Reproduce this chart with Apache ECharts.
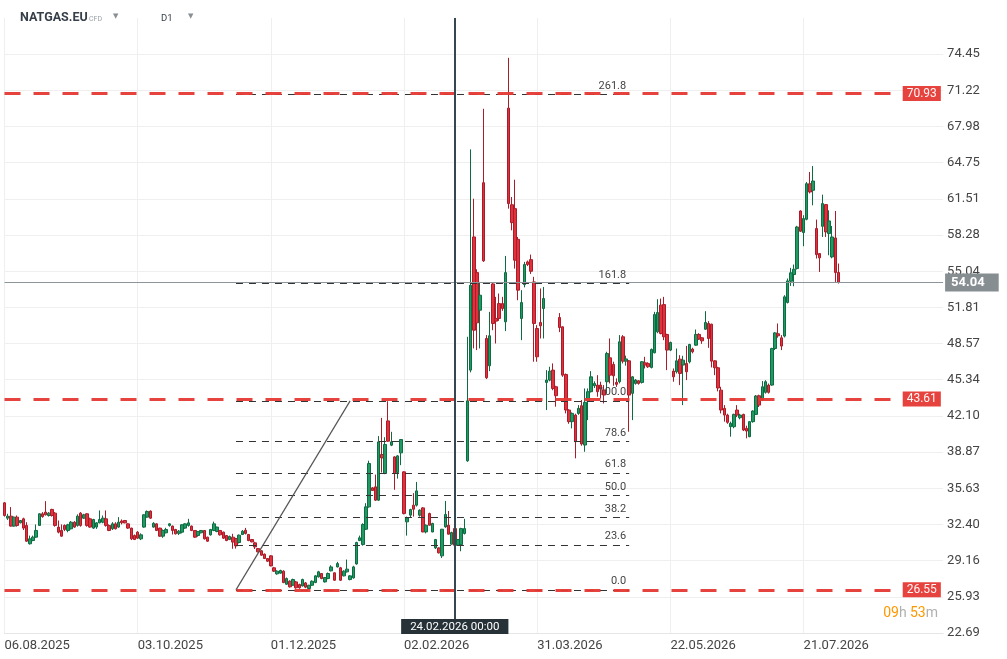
<!DOCTYPE html>
<html><head><meta charset="utf-8">
<script src="https://cdn.jsdelivr.net/npm/echarts@6.0.0/dist/echarts.min.js"></script>
<style>html,body{margin:0;padding:0;background:#fff}#c{width:1007px;height:659px}</style>
</head><body><div id="c"></div>
<script>
// [open, close, low, high]
const segAugNov = [
[34.33,33.20,33.10,34.40],[32.96,33.14,32.80,33.35],[33.14,32.25,32.20,33.95],[32.25,33.05,32.20,33.10],[33.05,32.31,32.20,33.20],
[32.54,32.75,32.50,32.80],[32.90,32.07,31.90,33.00],[32.31,30.90,30.85,32.60],[30.67,31.11,30.60,31.40],[30.96,31.26,30.90,31.40],
[31.26,31.86,31.20,32.40],[32.31,33.35,32.30,33.40],[33.35,33.10,33.00,33.50],[33.50,33.26,33.20,34.48],[33.20,33.41,33.10,33.50],
[33.74,33.20,33.10,33.80],[33.41,32.31,32.20,33.50],[32.16,31.71,31.60,32.75],[31.86,31.35,31.30,32.40],[32.31,31.95,31.80,32.40],
[31.86,32.37,31.70,32.45],[32.01,32.60,31.95,32.70],[32.60,32.16,32.10,32.70],[32.31,33.14,32.20,33.30],[33.41,32.31,32.20,33.50],
[32.96,33.26,32.90,33.35],[33.35,32.31,32.20,33.40],[32.90,32.16,32.10,33.00],[32.07,32.84,32.00,32.90],[32.16,32.54,32.00,32.60],
[32.54,32.84,32.50,33.65],[32.60,32.96,32.50,33.20],[32.90,32.31,32.20,33.65],[32.31,31.86,31.80,32.40],[32.01,32.45,31.90,32.60],
[32.45,32.01,31.95,32.60],[32.16,32.60,32.10,33.05],[32.70,32.55,32.40,32.85],[32.75,32.54,32.50,32.80],[32.45,32.07,32.00,32.50],
[32.07,31.11,31.00,32.10],[31.41,31.05,31.00,31.50],[31.71,31.17,31.10,31.80],[31.11,31.47,31.00,31.60],[32.16,33.26,32.10,33.30],
[33.05,33.56,33.00,33.65],[33.59,32.96,32.90,33.65],[32.16,32.50,32.10,32.60],[32.45,31.86,31.80,32.50],[32.07,31.35,31.30,32.10],
[31.35,31.86,31.20,31.95],[31.65,31.95,31.60,32.10],[32.31,32.45,32.20,32.50],[32.25,31.86,31.50,32.30],[31.95,31.56,31.50,32.00],
[31.60,31.80,31.45,31.90],[31.71,32.37,31.60,32.40],[32.07,32.45,32.00,32.50],[32.31,32.54,32.20,32.90],[32.25,31.86,31.80,32.30],
[31.86,31.26,31.20,31.90],[31.41,31.77,31.30,31.80],[31.65,31.86,31.60,31.90],[31.86,31.11,31.05,31.90],[31.26,30.90,30.85,31.30],
[31.47,31.95,31.40,32.00],[31.86,32.45,31.80,32.65],[31.77,32.16,31.70,32.20],[31.86,31.47,31.40,31.90],[31.71,31.17,31.10,31.75],
[31.41,30.96,30.90,31.45],[31.05,31.32,31.00,31.40],[31.26,30.82,30.22,31.56]
];
const segNovFeb = [
[31.14,30.48,30.24,31.20],[30.78,31.44,30.70,31.50],[31.50,31.79,31.45,31.90],[31.88,31.59,31.50,32.09],[31.50,30.96,30.90,31.55],
[31.05,30.84,30.80,31.10],[30.75,30.39,30.20,30.85],[30.24,29.95,29.90,30.30],[30.04,29.65,29.60,30.10],[29.74,29.35,29.30,29.80],
[29.35,29.11,29.05,29.40],[29.59,28.69,28.65,29.65],[28.52,28.22,28.15,28.60],[27.98,28.22,27.90,28.30],[28.04,28.28,28.00,28.35],
[28.22,27.20,27.15,28.30],[27.05,27.56,27.00,27.65],[27.32,26.82,26.75,27.40],[26.96,27.47,26.90,27.55],[27.26,26.73,26.65,27.35],
[27.02,26.73,26.65,27.10],[26.90,27.47,26.85,27.55],[27.17,26.79,26.70,27.25],[26.67,26.96,26.60,27.00],[26.96,27.32,26.90,27.40],
[27.20,27.80,27.15,27.85],[27.71,28.16,27.65,28.25],[28.01,27.56,27.50,28.05],[27.26,27.65,27.20,27.70],[27.56,28.01,27.50,28.10],
[28.25,28.60,28.20,28.75],[28.07,27.41,27.35,28.10],[28.60,28.90,28.55,29.05],[28.52,27.41,27.35,28.60],[27.80,28.22,27.75,28.30],
[28.16,28.40,28.10,29.26],[27.47,27.80,27.40,27.85],[27.62,28.60,27.55,28.70],[28.87,30.78,28.80,30.85],[30.96,31.20,30.90,31.40],
[30.60,32.39,30.50,32.50],[31.97,33.97,31.90,34.30],[33.97,37.85,33.90,38.10],[35.67,35.43,35.40,35.75],[35.76,34.57,34.50,36.86],
[34.57,39.78,34.50,40.30],[38.65,38.35,37.04,41.93],[36.95,39.55,36.90,40.20],[41.66,39.84,39.80,43.42],[39.49,39.78,39.40,40.68],
[38.44,36.95,35.50,38.50],[37.04,38.53,36.50,38.60],[38.80,39.99,37.70,40.00],[37.10,33.37,33.30,37.15],[32.63,32.99,31.40,33.10],
[33.23,33.73,33.00,33.80],[34.12,33.76,33.10,35.20],[34.12,35.40,34.00,36.20],[33.23,33.67,33.10,33.75],[33.88,31.73,31.70,33.95],
[31.73,32.33,31.60,32.40],[33.37,32.33,32.30,33.45],[31.73,32.48,31.70,32.55],[30.30,31.05,30.20,31.10],[30.30,29.86,29.80,30.35],
[29.59,31.97,29.40,32.00],[32.18,33.29,32.10,34.50],[32.33,31.53,31.50,33.60],[30.63,31.67,30.60,31.75],[32.03,30.54,30.50,32.10],
[30.54,31.05,30.50,31.10],[30.60,32.03,30.00,32.10],[31.59,32.03,31.50,32.90],[38.09,43.45,38.00,49.18]
];
const segMarApr = [
[46.20,53.79,46.00,65.94],[58.11,49.77,48.14,61.53],[54.92,50.43,47.99,55.22],[51.56,52.90,48.14,54.09],[62.96,55.97,55.88,69.57],
[49.03,45.52,45.40,49.33],[46.59,49.27,46.11,51.41],[53.91,50.37,49.77,54.00],[50.82,50.58,48.58,52.75],[52.15,50.82,50.60,53.05],
[52.15,51.71,51.50,52.75],[50.52,54.92,49.69,56.41],[69.63,61.09,60.64,74.13],[60.99,59.39,58.70,61.68],[60.64,56.03,55.28,63.23],
[57.90,53.35,52.45,58.11],[50.82,52.24,48.88,53.35],[53.85,55.64,53.60,55.88],[55.88,55.64,55.50,56.00],[56.08,55.04,54.80,56.53],
[54.09,50.37,46.95,54.54],[49.92,47.39,46.95,50.22],[50.46,50.16,49.03,53.50],[51.71,52.60,49.03,53.64],[45.10,45.31,42.63,46.20],
[45.31,46.10,45.20,46.50],[46.20,44.56,44.40,46.80],[44.71,43.91,42.93,44.80],[50.90,50.01,49.60,51.30],[50.07,45.75,45.60,50.10],
[45.81,42.63,42.33,45.90],[42.63,41.59,41.40,42.70],[41.59,42.33,40.99,42.42],[42.18,39.80,38.31,42.30],[42.33,42.78,42.20,43.07],
[43.02,39.59,39.44,43.52],[39.50,43.32,38.90,44.56],[43.46,44.27,41.73,44.56],[44.27,45.60,44.20,46.11],[44.80,45.00,44.60,45.20],
[44.86,44.27,43.82,45.75],[44.86,44.50,43.67,45.16],[44.42,43.97,43.22,44.86],[45.16,47.69,44.12,47.84],[47.30,45.75,45.01,49.03],
[46.71,45.69,44.80,46.95],[45.10,44.93,44.70,45.46],[45.16,48.73,45.01,49.33],[49.18,47.00,46.80,49.33],[47.00,47.20,46.60,47.50],
[47.03,43.97,40.69,47.10],[44.12,45.60,41.73,45.65],[45.01,45.31,44.90,45.40],[45.25,45.01,44.90,45.30],[45.10,46.95,45.00,47.00]
];
const segMayJun = [
[46.85,46.65,46.35,47.39],[46.80,46.50,46.40,46.90],[46.44,48.05,46.35,48.13],[47.75,51.17,47.70,51.41],[49.62,51.35,49.50,52.54],
[52.01,49.47,49.40,52.60],[52.06,49.18,48.88,52.75],[49.39,47.99,46.20,49.45],[47.99,48.67,47.90,48.75],[46.11,45.60,45.16,46.35],
[46.05,47.03,45.90,48.13],[47.18,45.90,44.86,47.54],[46.65,47.09,43.07,47.48],[46.80,46.05,45.31,48.37],[46.94,48.49,46.80,48.55],
[48.08,47.84,47.70,48.20],[48.43,49.39,48.37,49.83],[49.39,48.97,48.90,49.50],[49.09,48.82,48.55,49.15],[49.86,50.46,49.80,51.47],
[50.37,49.03,48.19,50.58],[50.31,47.00,46.44,50.35],[47.03,46.41,45.75,47.09],[46.41,44.60,44.30,46.50],[44.41,42.63,42.33,44.71],
[42.78,42.18,41.59,43.07],[42.18,41.53,41.40,42.30],[41.14,41.44,40.25,41.59],[41.14,42.24,41.00,42.30],[42.63,42.18,42.00,43.07],
[41.94,42.18,41.80,42.30],[42.24,40.84,40.75,42.30],[40.99,40.75,40.10,41.23],[40.25,41.59,40.20,41.65],[41.59,42.54,41.50,42.60],
[42.24,43.88,42.20,43.97],[43.91,43.07,42.90,44.00],[43.52,44.71,43.43,45.22],[44.21,45.16,44.10,45.30],[44.86,44.21,44.10,45.00],
[44.86,48.13,44.80,48.20],[48.13,49.53,48.00,49.60],[49.45,49.27,49.10,50.37]
];
const segJulAug = [
[49.09,48.35,47.99,49.33],[49.24,52.75,49.12,52.90],[52.25,54.18,52.16,54.39],[54.15,54.90,53.73,55.34],[54.75,55.22,53.70,55.64],
[55.28,59.00,55.20,59.10],[60.43,58.62,58.56,60.49],[58.50,59.75,57.28,60.05],[59.69,62.87,59.60,63.02],[62.87,62.13,62.00,63.92],
[62.28,63.11,60.94,64.45],[58.86,56.53,56.18,59.66],[56.62,56.24,54.98,56.65],[59.06,61.09,58.11,61.89],[61.00,58.56,58.11,61.05],
[58.41,59.54,56.47,60.49],[56.32,58.11,56.20,59.09],[58.02,54.93,54.09,60.43],[54.93,54.04,53.94,55.73]
];

const totalSlots = 297;
const xTickIndex = [0, 42, 84, 126, 168, 210, 252];
const xTickLabels = ['06.08.2025','03.10.2025','01.12.2025','02.02.2026','31.03.2026','22.05.2026','21.07.2026'];
const yTicks = [22.69,25.93,29.16,32.40,35.63,38.87,42.10,45.34,48.57,51.81,55.04,58.28,61.51,64.75,67.98,71.22,74.45];
const redLevels = [70.93, 43.61, 26.55];
const fibLabels = ['0.0','23.6','38.2','50.0','61.8','78.6','100.0','161.8','261.8'];
const fibPrices = [26.55, 30.54, 33.01, 35.00, 37.00, 39.83, 43.45, 53.95, 70.85];
const fibStartIdx = 73, fibHighIdx = 109, fibEndIdx = 197, redEndIdx = 282;
const lastPrice = 54.04;
const crosshairIdx = 142;
const crosshairLabel = '24.02.2026 00:00';

const candles = segAugNov.concat(segNovFeb, segMarApr, segMayJun, segJulAug);
const categories = Array.from({length: totalSlots}, (_, i) => String(i));
const FONT = 'Roboto, "Noto Sans", sans-serif';

const markData = [];
// fibonacci levels
fibPrices.forEach((p, k) => {
  markData.push([
    {coord: [categories[fibStartIdx], p],
     lineStyle: {color: '#333', width: 1, type: [7, 6]},
     label: {show: true, position: 'insideEndTop', formatter: fibLabels[k], color: '#444', fontSize: 11, fontFamily: FONT, distance: 3}},
    {coord: [categories[fibEndIdx], p]}
  ]);
});
// fib trend line
markData.push([
  {coord: [categories[fibStartIdx], fibPrices[0]], lineStyle: {color: '#555', width: 1.2, type: 'solid'}, label: {show: false}},
  {coord: [categories[fibHighIdx], fibPrices[6]]}
]);
// red horizontal levels
redLevels.forEach(v => {
  markData.push([
    {coord: [categories[0], v],
     lineStyle: {color: '#e53935', width: 3, type: [16, 13], opacity: 0.95},
     label: {show: true, position: 'end', formatter: v.toFixed(2), color: '#fff', backgroundColor: '#e53935',
             padding: [2, 4, 1, 4], fontSize: 12, fontFamily: FONT, distance: 4}},
    {coord: [categories[redEndIdx], v]}
  ]);
});
// last price line
markData.push({yAxis: lastPrice, lineStyle: {color: '#8d9599', width: 1, type: 'solid'},
  label: {show: true, position: 'end', formatter: lastPrice.toFixed(2), color: '#fff', backgroundColor: '#868e92',
          padding: [3, 14, 2, 6], fontSize: 13, fontWeight: 'bold', fontFamily: FONT, distance: 2}});
// crosshair vertical line
markData.push({xAxis: categories[crosshairIdx], lineStyle: {color: '#37474f', width: 2, type: 'solid'}, label: {show: false}});

const chart = echarts.init(document.getElementById('c'));
chart.setOption({
  animation: false,
  backgroundColor: '#fff',
  grid: {left: 4.5, right: 63.9, top: 18, bottom: 26},
  xAxis: {
    type: 'category', data: categories, boundaryGap: false,
    axisLine: {show: true, lineStyle: {color: '#e6e6e6'}},
    axisTick: {show: false},
    axisLabel: {
      interval: (i) => xTickIndex.indexOf(i) >= 0,
      formatter: (v, i) => { const k = xTickIndex.indexOf(i); return k >= 0 ? xTickLabels[k] : ''; },
      align: 'left', color: '#444', fontSize: 13, fontFamily: FONT, margin: 6
    },
    splitLine: {show: true, interval: (i) => xTickIndex.indexOf(i) >= 0, lineStyle: {color: '#efefef', width: 1}}
  },
  yAxis: {
    type: 'value', position: 'right', min: 22.69, max: 77.69,
    axisLine: {show: false},
    axisTick: {show: false, customValues: yTicks},
    axisLabel: {customValues: yTicks, formatter: (v) => v.toFixed(2), color: '#444', fontSize: 13, fontFamily: FONT, margin: 4},
    splitLine: {show: true, lineStyle: {color: '#efefef', width: 1}}
  },
  series: [{
    type: 'candlestick',
    data: candles,
    barWidth: 3,
    clip: false,
    itemStyle: {color: '#1f9a63', color0: '#e3303d', borderColor: '#0e6b42', borderColor0: '#a91c29', borderWidth: 1},
    markLine: {silent: true, symbol: 'none', animation: false, data: markData}
  }]
});

const px = chart.convertToPixel({xAxisIndex: 0}, categories[crosshairIdx]);
chart.setOption({
  graphic: [
    {type: 'text', x: 20, y: 18, style: {text: 'NATGAS.EU', fill: '#37404a', fontSize: 12.5, fontWeight: 'bold', fontFamily: FONT, verticalAlign: 'middle'}},
    {type: 'text', x: 89, y: 19, style: {text: 'CFD', fill: '#9aa0a6', fontSize: 7, fontFamily: FONT, verticalAlign: 'middle'}},
    {type: 'text', x: 113, y: 16, style: {text: '▼', fill: '#8a8f94', fontSize: 7, fontFamily: '"DejaVu Sans"', verticalAlign: 'middle'}},
    {type: 'text', x: 161, y: 19, style: {text: 'D1', fill: '#37404a', fontSize: 9.5, fontFamily: FONT, verticalAlign: 'middle'}},
    {type: 'text', x: 188, y: 16, style: {text: '▼', fill: '#8a8f94', fontSize: 7, fontFamily: '"DejaVu Sans"', verticalAlign: 'middle'}},
    {type: 'text', x: 938, y: 613, style: {text: '{o|09}{g|h} {o|53}{g|m}', align: 'right', verticalAlign: 'middle',
      rich: {o: {fill: '#ff9800', fontSize: 14, fontFamily: FONT}, g: {fill: '#b0b0b0', fontSize: 14, fontFamily: FONT}}}},
    {type: 'text', x: px, y: 634, z: 100, style: {text: crosshairLabel, fill: '#fff', backgroundColor: '#263238',
      padding: [2, 9, 1, 9], align: 'center', verticalAlign: 'bottom', fontSize: 11.5, fontFamily: FONT}}
  ]
});
</script>
</body></html>
